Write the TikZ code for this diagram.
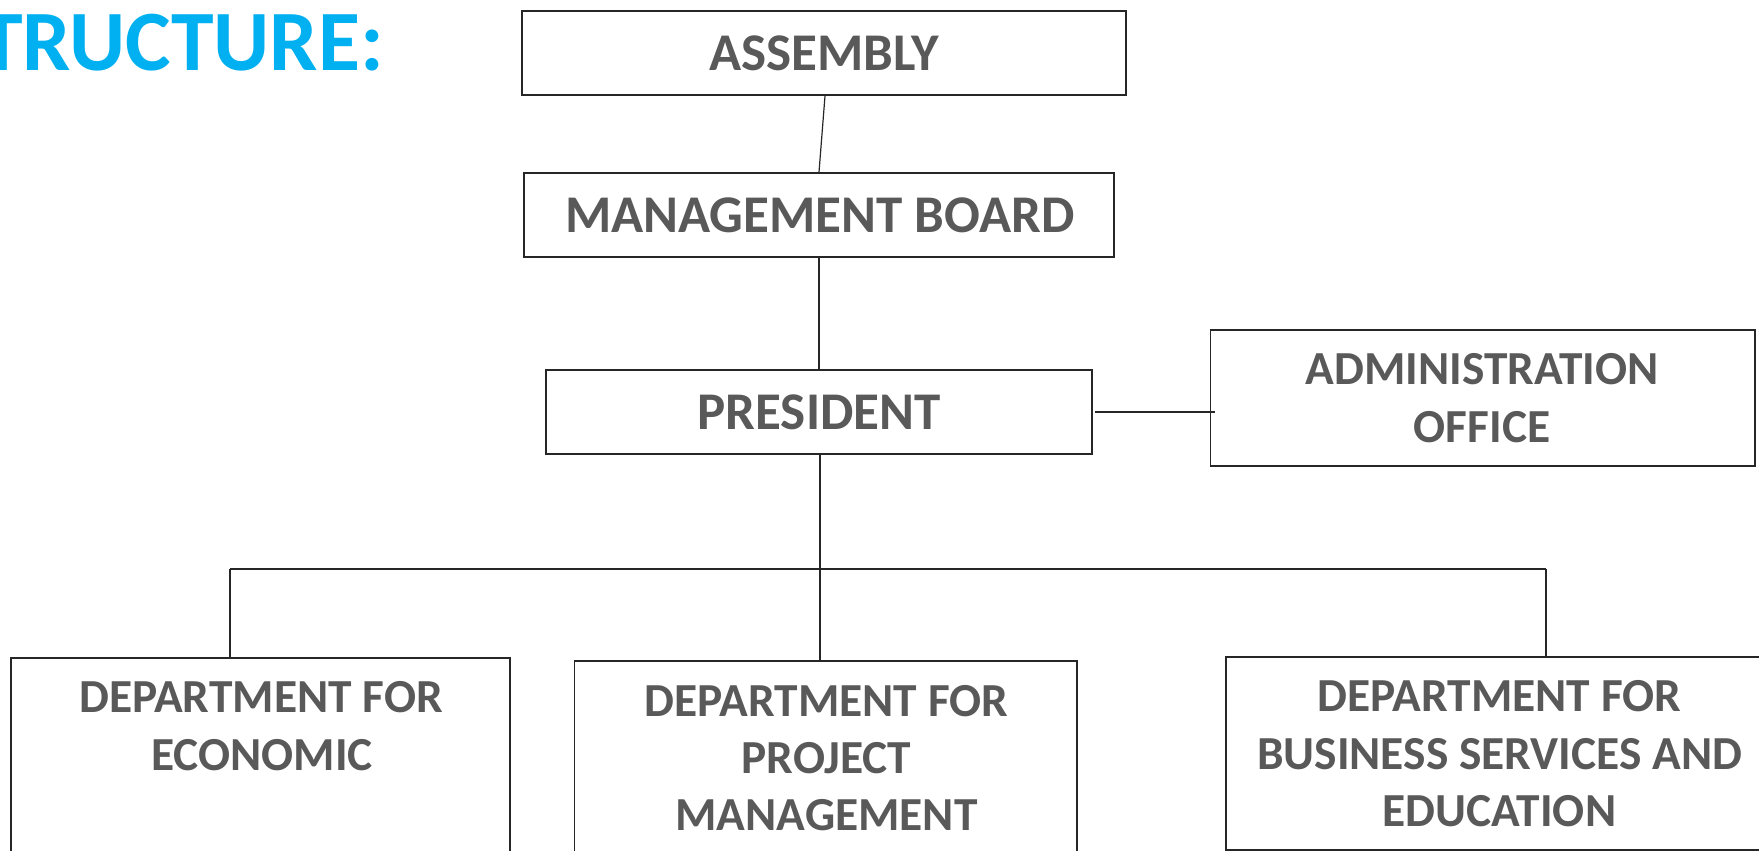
\documentclass[tikz,border=0pt]{standalone}
\usepackage{fontspec}
\setmainfont{Carlito}
\definecolor{txtgray}{HTML}{595959}
\definecolor{ttlblue}{HTML}{00B0F0}
\definecolor{linecol}{HTML}{262626}
\begin{document}
\begin{tikzpicture}[x=1pt,y=-1pt,
  box/.style={draw=linecol, line width=1.6pt, inner sep=0pt, rectangle},
  conn/.style={draw=linecol, line width=1.2pt},
  lbl/.style={text=txtgray, font=\bfseries\fontsize{53}{64}\selectfont, anchor=base, inner sep=0pt},
  dlbl/.style={lbl, font=\bfseries\fontsize{47.4}{57}\selectfont},
  ttl/.style={text=ttlblue, font=\bfseries\fontsize{86}{100}\selectfont, anchor=base west, inner sep=0pt}]
\useasboundingbox (0,0) rectangle (1759,851);
% title
\node[ttl] (title) at (-20,70.7) {TRUCTURE:};
% boxes
\node[box, minimum width=604pt, minimum height=84pt] (asm) at (824,53) {};
\node[box, minimum width=590pt, minimum height=84pt] (mb) at (819,215) {};
\node[box, minimum width=546pt, minimum height=84pt] (pres) at (819,412) {};
\node[box, minimum width=544.5pt, minimum height=136pt] (admin) at (1482.75,398) {};
\node[box, minimum width=499pt, minimum height=242pt] (econ) at (260.5,779) {};
\node[box, minimum width=502.5pt, minimum height=239pt] (proj) at (825.75,780.5) {};
\node[box, minimum width=540pt, minimum height=193pt] (bus) at (1496,753.5) {};
% labels
\node[lbl] (tasm) at (824,70.5) {ASSEMBLY};
\node[lbl] (tmb) at (820,232.5) {MANAGEMENT BOARD};
\node[lbl] (tpres) at (819,429.7) {PRESIDENT};
\node[dlbl] (tadm1) at (1482,384.5) {ADMINISTRATION};
\node[dlbl] (tadm2) at (1482,442) {OFFICE};
\node[dlbl] (tec1) at (261,712.7) {DEPARTMENT FOR};
\node[dlbl] (tec2) at (262,770.7) {ECONOMIC};
\node[dlbl] (tpr1) at (826.5,716) {DEPARTMENT FOR};
\node[dlbl] (tpr2) at (826.5,773.3) {PROJECT};
\node[dlbl] (tpr3) at (826.5,830) {MANAGEMENT};
\node[dlbl] (tbu1) at (1499.5,711.7) {DEPARTMENT FOR};
\node[dlbl] (tbu2) at (1499.5,769.3) {BUSINESS SERVICES AND};
\node[dlbl] (tbu3) at (1499.5,826.7) {EDUCATION};
% connectors
\coordinate (barL) at (230,569);
\coordinate (barR) at (1546,569);
\coordinate (pbot) at (820,454);
\draw[conn] ([xshift=1pt]asm.south) -- (mb.north);
\draw[conn] (mb.south) -- (pres.north);
\draw[conn] ([xshift=2.5pt]pres.east) -- ([xshift=5pt]pres.east -| admin.west);
\draw[conn] (pbot) -- (pbot |- proj.north);
\draw[conn] (barL) -- (barR);
\draw[conn] (barL) -- (barL |- econ.north);
\draw[conn] (barR) -- (barR |- bus.north);
\end{tikzpicture}
\end{document}
